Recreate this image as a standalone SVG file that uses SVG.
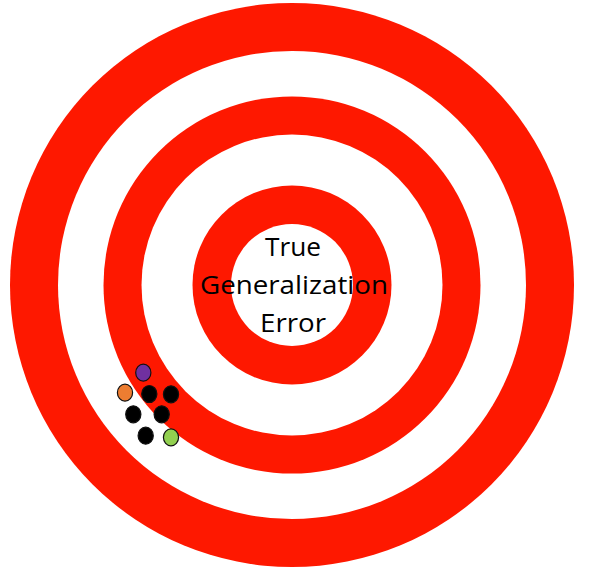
<svg xmlns="http://www.w3.org/2000/svg" width="592" height="574" viewBox="0 0 592 574">
  <style>
    .red { fill: #fe1800; }
    .white { fill: #ffffff; }
    .label { font-family: "Open Sans", "Liberation Sans", sans-serif; font-size: 26px; fill: #000000; text-anchor: middle; }
    .dot { stroke: #111111; stroke-width: 1.2; }
  </style>
  <rect width="592" height="574" fill="#ffffff"/>
  <g id="target">
    <circle class="red" cx="292" cy="285" r="282"/>
    <circle class="white" cx="292" cy="285" r="234"/>
    <circle class="red" cx="292" cy="285" r="188.5"/>
    <circle class="white" cx="292" cy="285" r="150.5"/>
    <circle class="red" cx="292" cy="285" r="99.5"/>
    <circle class="white" cx="292" cy="285" r="61"/>
  </g>
  <g id="label">
    <text class="label" x="293" y="256" textLength="56" lengthAdjust="spacingAndGlyphs">True</text>
    <text class="label" x="294" y="294" textLength="188" lengthAdjust="spacingAndGlyphs">Generalization</text>
    <text class="label" x="293" y="332" textLength="66" lengthAdjust="spacingAndGlyphs">Error</text>
  </g>
  <g id="dots">
    <ellipse class="dot" cx="143.3" cy="372.7" rx="7.6" ry="8.5" fill="#7030a0"/>
    <ellipse class="dot" cx="125" cy="392.7" rx="7.6" ry="8.5" fill="#ed7d31"/>
    <ellipse class="dot" cx="149.3" cy="394" rx="7.6" ry="8.5" fill="#000000"/>
    <ellipse class="dot" cx="171" cy="394.3" rx="7.6" ry="8.5" fill="#000000"/>
    <ellipse class="dot" cx="133.3" cy="414.3" rx="7.6" ry="8.5" fill="#000000"/>
    <ellipse class="dot" cx="161.7" cy="414.3" rx="7.6" ry="8.5" fill="#000000"/>
    <ellipse class="dot" cx="145.7" cy="435.7" rx="7.6" ry="8.5" fill="#000000"/>
    <ellipse class="dot" cx="171" cy="437.3" rx="7.6" ry="8.5" fill="#92d050"/>
  </g>
</svg>
